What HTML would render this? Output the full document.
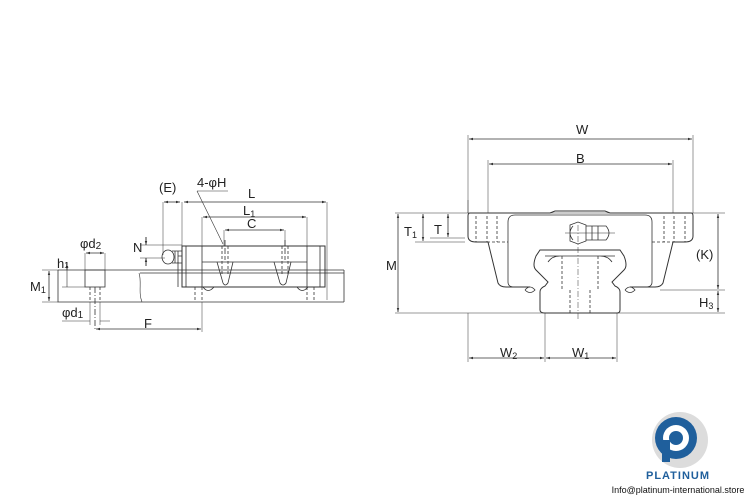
<!DOCTYPE html>
<html><head><meta charset="utf-8"><style>
html,body{margin:0;padding:0;background:#fff}
svg{display:block}
text{font-family:"Liberation Sans",sans-serif;fill:#222}
</style></head><body>
<svg width="750" height="500" viewBox="0 0 750 500" xmlns="http://www.w3.org/2000/svg">
<defs>
<marker id="a" viewBox="0 0 10 10" refX="10" refY="5" markerWidth="5" markerHeight="5" orient="auto-start-reverse"><path d="M0,2 L10,5 L0,8z" fill="#333"/></marker>
</defs>
<g stroke="#333" stroke-width="0.8" fill="none">
<!-- LEFT VIEW -->
<!-- rail -->
<path d="M58,270 H344 M140,273 H344 M58,270 V302 H344 M344,270 V302"/>
<path d="M139,273 C142,282 138,292 142,302" stroke-width="0.6"/>
<!-- counterbore -->
<rect x="85" y="270" width="20" height="17"/>
<path d="M90,287 V302 M100,287 V302" stroke-dasharray="3,2"/>
<path d="M95,287 V330" stroke-dasharray="6,2,1,2"/>
<!-- block -->
<rect x="182" y="246" width="143" height="41" stroke-width="1"/>
<path d="M186,246 V287 M320,246 V287 M202,246 V287 M307,246 V287 M202,262 H307"/>
<path d="M178,256 H182 M178,262 V287"/>
<path d="M217,262 L223,283 Q225,287 228,283 L233,262 M274,262 L280,283 Q283,287 286,283 L291,262"/>
<path d="M222,246 V275 M228,246 V275 M282,246 V275 M288,246 V275" stroke-dasharray="3,2"/>
<path d="M225,240 V260 M285,240 V260" stroke-dasharray="6,2"/>
<path d="M195,287 V302 M202,287 V302 M307,287 V302 M314,287 V302" stroke-dasharray="3,2"/>
<path d="M203,287 Q208,294 214,287 M297,287 Q302,294 308,287"/>
<!-- nipple -->
<ellipse cx="168" cy="257" rx="6" ry="7"/>
<path d="M172,251 H182 M172,263 H182 M175,251 V263 M178,251 V263"/>
<!-- dims left -->
<path d="M163,202 V255 M182,202 V246 M327,202 V300 M202,217 V246 M307,217 V246 M224,230 V246 M285,230 V246" stroke-width="0.5"/>
<path d="M164,202 H180" marker-start="url(#a)" marker-end="url(#a)"/>
<path d="M184,202 H326" marker-start="url(#a)" marker-end="url(#a)"/>
<path d="M203,217 H306" marker-start="url(#a)" marker-end="url(#a)"/>
<path d="M225,230 H284" marker-start="url(#a)" marker-end="url(#a)"/>
<path d="M140,245 H182 M140,258 H165" stroke-width="0.5"/>
<path d="M146,237 V245 M146,266 V258"/>
<path d="M146,237 V245" marker-end="url(#a)"/><path d="M146,266 V258" marker-end="url(#a)"/>
<path d="M67,262 V287 M62,287 H85" stroke-width="0.6"/>
<path d="M67,262 V270" marker-end="url(#a)"/>
<path d="M42,270 H58 M42,302 H58" stroke-width="0.5"/>
<path d="M49,271 V301" marker-start="url(#a)" marker-end="url(#a)"/>
<path d="M85,253 V270 M105,253 V270" stroke-width="0.5"/>
<path d="M86,253 H104" marker-start="url(#a)" marker-end="url(#a)"/>
<path d="M62,321 H90 M100,321 H110" stroke-width="0.6"/>
<path d="M90,302 V325 M100,302 V325" stroke-width="0.5"/>
<path d="M202,302 V332" stroke-width="0.5"/>
<path d="M96,329 H201" marker-start="url(#a)" marker-end="url(#a)"/>
<path d="M197,191 H228 M197,191 L223,244" stroke-width="0.6"/>

<!-- RIGHT VIEW -->
<path d="M468,213 V200 M693,213 V135 M468,213 V135 M488,213 V160 M673,213 V160" stroke-width="0.5"/>
<path d="M469,139 H692" marker-start="url(#a)" marker-end="url(#a)"/>
<path d="M489,164 H672" marker-start="url(#a)" marker-end="url(#a)"/>
<path d="M395,213 H725 M395,313 H725 M415,242 H465 M430,238 H465 M660,290 H725" stroke-width="0.5"/>
<!-- block outline -->
<path d="M470,213 H550 L555,211 H605 L610,213 H691 Q693,213 693,216 V236 Q693,242 685,242 H673 L663,283 Q661,287 655,287 H630 M470,213 Q468,213 468,216 V236 Q468,242 476,242 H488 L498,283 Q500,287 506,287 H530" stroke-width="1"/>
<path d="M515,215 H645 Q652,215 652,222 V282 Q652,287 646,287 H632 M515,215 Q508,215 508,222 V282 Q508,287 514,287 H528"/>
<path d="M476,216 V242 M487,216 V242 M497,216 V242 M664,216 V242 M674,216 V242 M685,216 V242 M487,242 H508 M652,242 H674" stroke-dasharray="3,2"/>
<!-- rail -->
<path d="M545,313 H617 Q620,313 620,310 V292 Q620,288 615,286 L612,282 Q618,276 624,270 Q628,266 624,256 L620,250 H540 L536,256 Q532,266 536,270 Q542,276 548,282 L545,286 Q540,288 540,292 V310 Q540,313 545,313 Z" stroke-width="1"/>
<path d="M545,256 H615 M548,262 Q552,256 560,256 M612,262 Q608,256 600,256"/>
<path d="M562,256 V290 M598,256 V290 M570,290 V313 M590,290 V313" stroke-dasharray="3,2"/>
<path d="M578,225 V320" stroke-dasharray="6,2,1,2" stroke-width="0.5"/>
<path d="M525,290 Q530,284 535,290 Q530,295 525,290 M625,290 Q630,284 635,290 Q630,295 625,290"/>
<!-- nipple -->
<path d="M570,225 L578,222 L586,225 V241 L578,244 L570,241 Z M573,226 Q567,233 573,240"/>
<path d="M586,226 H606 Q612,233 606,240 H586 M592,226 V240 M598,226 V240" />
<path d="M565,233 H615" stroke-width="0.5"/>
<!-- dims right -->
<path d="M398,214 V312" marker-start="url(#a)" marker-end="url(#a)"/>
<path d="M423,214 V241" marker-start="url(#a)" marker-end="url(#a)"/>
<path d="M448,214 V237" marker-start="url(#a)" marker-end="url(#a)"/>
<path d="M718,214 V289" marker-start="url(#a)" marker-end="url(#a)"/>
<path d="M718,291 V312" marker-start="url(#a)" marker-end="url(#a)"/>
<path d="M468,313 V362 M545,313 V362 M617,313 V362" stroke-width="0.5"/>
<path d="M469,358 H544" marker-start="url(#a)" marker-end="url(#a)"/>
<path d="M546,358 H616" marker-start="url(#a)" marker-end="url(#a)"/>
</g>
<g font-size="13">
<text x="159" y="192">(E)</text>
<text x="197" y="187">4-φH</text>
<text x="248" y="198">L</text>
<text x="243" y="215">L<tspan font-size="9" dy="2">1</tspan></text>
<text x="247" y="228">C</text>
<text x="133" y="252">N</text>
<text x="80" y="248">φd<tspan font-size="10" dy="1">2</tspan></text>
<text x="57" y="268">h<tspan font-size="8">1</tspan></text>
<text x="30" y="291">M<tspan font-size="9" dy="2">1</tspan></text>
<text x="62" y="317">φd<tspan font-size="10" dy="1">1</tspan></text>
<text x="144" y="328">F</text>
<text x="576" y="134">W</text>
<text x="576" y="163">B</text>
<text x="404" y="236">T<tspan font-size="9" dy="2">1</tspan></text>
<text x="434" y="234">T</text>
<text x="386" y="270">M</text>
<text x="696" y="259">(K)</text>
<text x="699" y="307">H<tspan font-size="9" dy="2">3</tspan></text>
<text x="500" y="357">W<tspan font-size="9" dy="2">2</tspan></text>
<text x="572" y="357">W<tspan font-size="9" dy="2">1</tspan></text>
</g>
<!-- logo -->
<circle cx="680" cy="440" r="28" fill="#dcdcdc"/>
<circle cx="676" cy="438" r="21" fill="#1f5f9c"/>
<circle cx="676" cy="438" r="13" fill="#fff"/>
<circle cx="676" cy="438" r="7" fill="#1f5f9c"/>
<rect x="662" y="440" width="8" height="22" fill="#1f5f9c"/>
<text x="678" y="479" font-size="11" font-weight="bold" text-anchor="middle" style="fill:#1f5f9c;letter-spacing:1px">PLATINUM</text>
<text x="678" y="493" font-size="9" text-anchor="middle" style="fill:#111">Info@platinum-international.store</text>
</svg>
</body></html>
